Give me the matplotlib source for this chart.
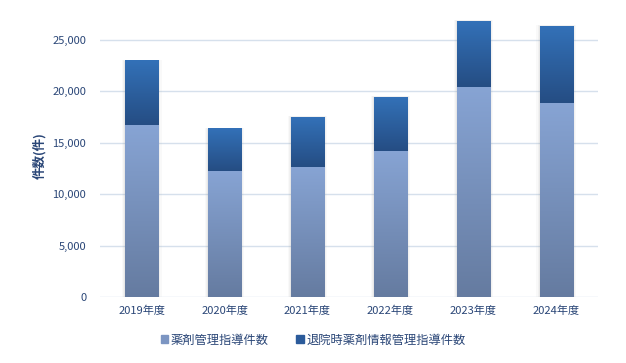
import numpy as np
import matplotlib.pyplot as plt
from matplotlib.patches import Patch, Rectangle
from matplotlib.colors import LinearSegmentedColormap

plt.rcParams['font.family'] = ['Noto Sans CJK JP', 'DejaVu Sans']

years = ['2019年度', '2020年度', '2021年度', '2022年度', '2023年度', '2024年度']
shido = [16700, 12250, 12650, 14200, 20450, 18900]      # 薬剤管理指導件数
taiin = [6250, 4100, 4850, 5250, 6400, 7450]           # 退院時薬剤情報管理指導件数
yticks = [0, 5000, 10000, 15000, 20000, 25000]

txt = '#2A4677'
light_cm = LinearSegmentedColormap.from_list('l', ['#657BA0', '#87A4D4'])
dark_cm = LinearSegmentedColormap.from_list('d', ['#254D83', '#3371B8'])

fig = plt.figure(figsize=(6.26, 3.63), dpi=100)
ax = fig.add_axes([0.16, 0.182, 0.795, 0.779])

w = 0.4
grad = np.linspace(0, 1, 256).reshape(-1, 1)
x = np.arange(len(years))

for i in x:
    lo, hi = shido[i], shido[i] + taiin[i]
    # soft shadow
    for k, a in [(0.04, 0.04), (0.025, 0.06), (0.012, 0.08)]:
        ax.add_patch(Rectangle((i - w / 2 - k, 0), w + 2 * k, hi + k * 2500,
                               color='#7a7a7a', alpha=a, lw=0, zorder=2))
    ax.imshow(grad, cmap=light_cm, aspect='auto', origin='lower',
              extent=(i - w / 2, i + w / 2, 0, lo), zorder=3)
    ax.imshow(grad, cmap=dark_cm, aspect='auto', origin='lower',
              extent=(i - w / 2, i + w / 2, lo, hi), zorder=3)

ax.set_xlim(-0.5, len(years) - 0.5)
ax.set_ylim(0, 27500)
ax.set_yticks(yticks)
ax.set_yticklabels([f'{v:,}' for v in yticks])
ax.set_xticks(x)
ax.set_xticklabels(years)
ax.tick_params(length=0, colors=txt, labelsize=8)
ax.tick_params(axis='y', pad=10)
ax.tick_params(axis='x', pad=6)
for s in ax.spines.values():
    s.set_visible(False)
ax.grid(axis='y', color='#D6E0EC', lw=1, zorder=0)
ax.set_axisbelow(True)
ax.set_ylabel('件数(件)', color=txt, fontsize=9, fontweight='bold', labelpad=4)

handles = [Patch(color='#7C95C2'), Patch(color='#2B5B9B')]
fig.legend(handles, ['薬剤管理指導件数', '退院時薬剤情報管理指導件数'],
           loc='center', bbox_to_anchor=(0.5, 0.063), ncol=2, frameon=False,
           fontsize=8.8, labelcolor=txt, handlelength=0.6, handleheight=0.6,
           handletextpad=0.2, columnspacing=2.3)

fig.savefig('out.png', dpi=100)
